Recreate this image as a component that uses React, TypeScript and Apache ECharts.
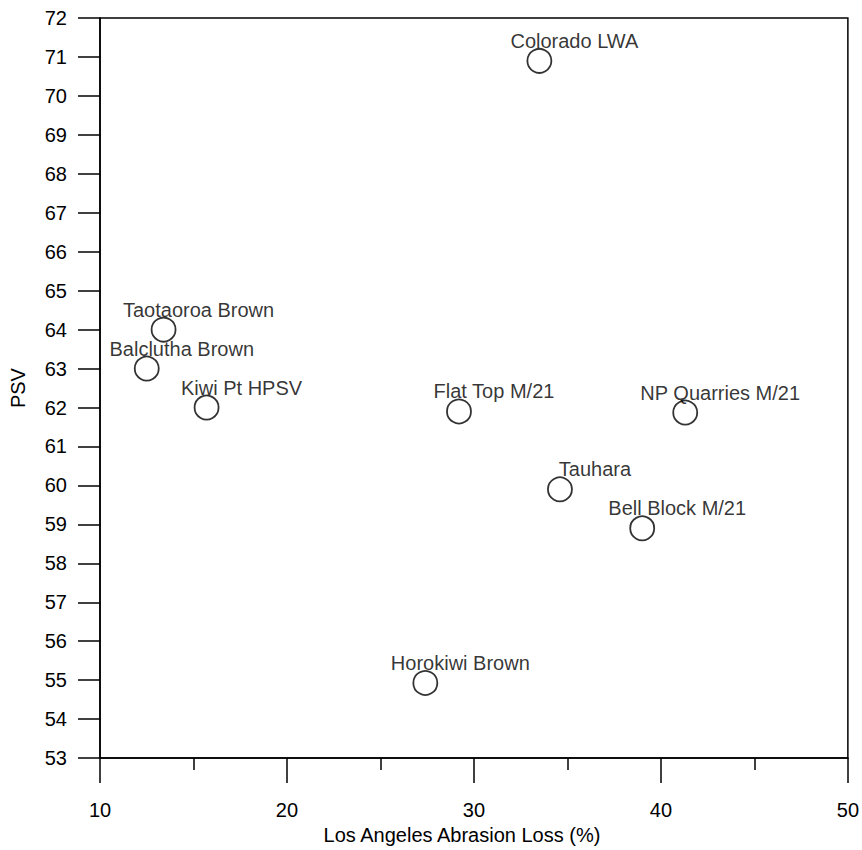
import React, { useEffect, useRef } from "react";
import * as echarts from "echarts";

const sampleNames = [
  "Colorado LWA",
  "Taotaoroa Brown",
  "Balclutha Brown",
  "Kiwi Pt HPSV",
  "Flat Top M/21",
  "NP Quarries M/21",
  "Tauhara",
  "Bell Block M/21",
  "Horokiwi Brown",
];
const abrasionLoss = [33.5, 13.4, 12.5, 15.7, 29.2, 41.3, 34.6, 39.0, 27.4];
const psvValues = [70.9, 64.0, 63.0, 62.0, 61.9, 61.87, 59.9, 58.9, 54.93];

const xTicks = { min: 10, max: 50, interval: 10 };
const yTicks = { min: 53, max: 72, interval: 1 };

const FONT = "'Liberation Sans', Arial, Helvetica, sans-serif";

export default function App() {
  const ref = useRef<HTMLDivElement>(null);
  useEffect(() => {
    if (!ref.current) return;
    const chart = echarts.init(ref.current, undefined, { renderer: "svg" });
    const data = sampleNames.map((n, i) => ({ name: n, value: [abrasionLoss[i], psvValues[i]] }));
    chart.setOption({
      animation: false,
      backgroundColor: "#fff",
      textStyle: { fontFamily: FONT },
      grid: {
        left: 100,
        right: 14,
        top: 18,
        bottom: 87,
        show: true,
        borderColor: "#000",
        borderWidth: 1.5,
        containLabel: false,
      },
      xAxis: {
        type: "value",
        min: xTicks.min,
        max: xTicks.max,
        interval: xTicks.interval,
        name: "Los Angeles Abrasion Loss (%)",
        nameLocation: "middle",
        nameGap: 62,
        nameTextStyle: { color: "#000", fontSize: 20, fontFamily: FONT, padding: [0, 24, 0, 0] },
        axisLine: { show: true, lineStyle: { color: "#000", width: 1.5 } },
        axisTick: { show: true, length: 25, lineStyle: { color: "#000", width: 1.5 } },
        minorTick: { show: true, splitNumber: 2, length: 12, lineStyle: { color: "#000", width: 1.5 } },
        axisLabel: { color: "#000", fontSize: 20, margin: 42, fontFamily: FONT },
        splitLine: { show: false },
      },
      yAxis: {
        type: "value",
        min: yTicks.min,
        max: yTicks.max,
        interval: yTicks.interval,
        name: "PSV",
        nameLocation: "middle",
        nameGap: 72,
        nameTextStyle: { color: "#000", fontSize: 20, fontFamily: FONT },
        axisLine: { show: true, lineStyle: { color: "#000", width: 1.5 } },
        axisTick: { show: true, length: 22, lineStyle: { color: "#000", width: 1.5 } },
        axisLabel: { color: "#000", fontSize: 20, margin: 33, fontFamily: FONT },
        splitLine: { show: false },
      },
      series: [
        {
          type: "scatter",
          data,
          symbol: "circle",
          symbolSize: 24,
          itemStyle: { color: "#fff", borderColor: "#000", borderWidth: 1.8 },
          label: {
            show: true,
            position: "inside",
            offset: [35, -20],
            formatter: (p: any) => p.name,
            color: "#000",
            fontSize: 20,
            fontFamily: FONT,
          },
          emphasis: { disabled: true },
        },
      ],
    });
    return () => chart.dispose();
  }, []);
  return (
    <div
      ref={ref}
      style={{ position: "fixed", left: 0, top: 0, width: 862, height: 850, background: "#fff" }}
    />
  );
}
